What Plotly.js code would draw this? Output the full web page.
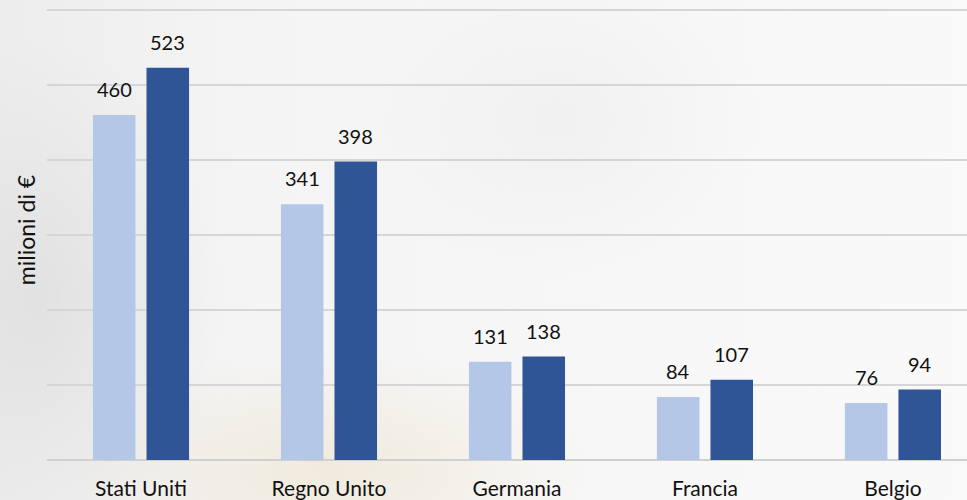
<!DOCTYPE html>
<html>
<head>
<meta charset="utf-8">
<script src="https://cdn.plot.ly/plotly-3.0.1.min.js"></script>
<style>
html,body{margin:0;padding:0;}
body{
  width:967px;height:500px;overflow:hidden;
  background:
    radial-gradient(ellipse 180px 260px at 40px 300px, rgba(215,215,215,0.55), rgba(215,215,215,0) 100%),
    radial-gradient(ellipse 260px 120px at 330px 470px, rgba(238,228,205,0.6), rgba(238,228,205,0) 100%),
    radial-gradient(ellipse 200px 160px at 560px 120px, rgba(236,236,236,0.6), rgba(236,236,236,0) 100%),
    linear-gradient(90deg, #ededed 0%, #f4f4f4 25%, #f7f7f7 60%, #f9f9f9 100%);
}
#chart{width:967px;height:500px;}
</style>
</head>
<body>
<div id="chart"></div>
<script>
const categories = ["Stati Uniti", "Regno Unito", "Germania", "Francia", "Belgio"];
const seriesLight = [460, 341, 131, 84, 76];
const seriesDark = [523, 398, 138, 107, 94];
const yTitle = "milioni di €";

const FONT = "Lato, 'Open Sans', sans-serif";
const colLight = "#B4C7E7";
const colDark = "#2F5597";

const traces = [
  {type: "bar", x: categories, y: seriesLight, name: "A", marker: {color: colLight}, hoverinfo: "skip"},
  {type: "bar", x: categories, y: seriesDark, name: "B", marker: {color: colDark}, hoverinfo: "skip"}
];

const annotations = [];
const off = 0.142;
categories.forEach((c, i) => {
  annotations.push({x: i - off, y: seriesLight[i], xref: "x", yref: "y", text: String(seriesLight[i]),
    showarrow: false, yanchor: "bottom", yshift: 12, font: {family: FONT, size: 20, color: "#111"}});
  annotations.push({x: i + off, y: seriesDark[i], xref: "x", yref: "y", text: String(seriesDark[i]),
    showarrow: false, yanchor: "bottom", yshift: 12, font: {family: FONT, size: 20, color: "#111"}});
});

const layout = {
  width: 967, height: 500,
  margin: {l: 47, r: 0, t: 0, b: 40},
  paper_bgcolor: "rgba(0,0,0,0)",
  plot_bgcolor: "rgba(0,0,0,0)",
  showlegend: false,
  barmode: "group",
  bargap: 0.43,
  bargroupgap: 0.206,
  font: {family: FONT, size: 20, color: "#111"},
  xaxis: {
    type: "category",
    range: [-0.5, 4.394],
    showgrid: false, zeroline: false, showline: false,
    ticks: "outside", ticklen: 10, tickcolor: "rgba(0,0,0,0)",
    tickfont: {family: FONT, size: 21, color: "#111"},
    fixedrange: true
  },
  yaxis: {
    range: [0, 613.33],
    dtick: 100, tick0: 0,
    showticklabels: false,
    showgrid: true, gridcolor: "#d6d6d6", gridwidth: 1.5,
    zeroline: true, zerolinecolor: "#d0d0d0", zerolinewidth: 1.5,
    title: {text: yTitle, font: {family: FONT, size: 23, color: "#111"}, standoff: 3},
    fixedrange: true
  },
  annotations: annotations
};

Plotly.newPlot("chart", traces, layout, {displayModeBar: false, staticPlot: true});
</script>
</body>
</html>
